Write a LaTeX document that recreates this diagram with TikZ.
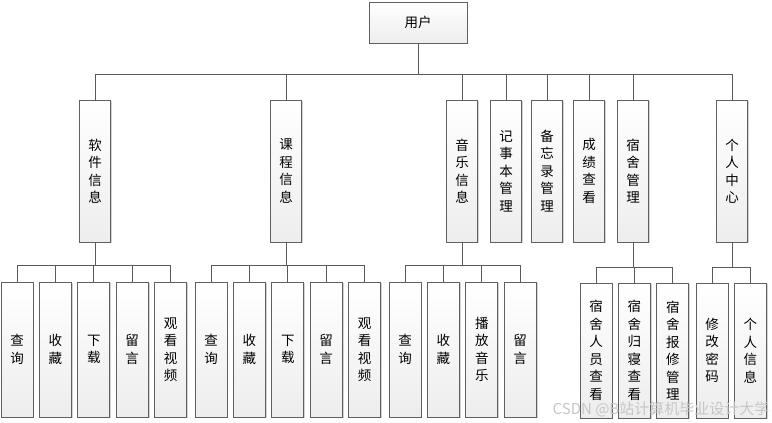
\documentclass[tikz,border=0pt]{standalone}
\usepackage{fontspec}
\newfontfamily\cjk{Noto Sans CJK SC}
\usetikzlibrary{positioning,shadows}

\begin{document}
\begin{tikzpicture}[
  x=1pt, y=-1pt,
  node distance=5.5pt,
  box/.style={rectangle, draw=gray!75!black, line width=0.9pt,
    top color=white, bottom color=gray!14, inner sep=0pt,
    drop shadow={shadow xshift=1.3pt, shadow yshift=-1.3pt, fill=gray!70},
    align=center, font=\cjk\fontsize{13.5}{17.5}\selectfont},
  topbox/.style={box, minimum width=98pt, minimum height=41pt},
  module/.style={box, minimum width=31pt, minimum height=142pt},
  leaf/.style={box, minimum width=32pt, minimum height=135pt},
  link/.style={draw=gray!70!black, line width=1pt}
]
\useasboundingbox (0,0) rectangle (772,423);

% root and first level
\node[topbox] (user)   at (418,22.5) {用户};
\node[module] (soft)   at (95,171)  {软\\件\\信\\息};
\node[module] (course) at (286,171) {课\\程\\信\\息};
\node[module] (music)  at (462,171) {音\\乐\\信\\息};
\node[module] (note)   at (506,171) {记\\事\\本\\管\\理};
\node[module] (memo)   at (547,171) {备\\忘\\录\\管\\理};
\node[module] (score)  at (589,171) {成\\绩\\查\\看};
\node[module] (dorm)   at (633,171) {宿\\舍\\管\\理};
\node[module] (mine)   at (732,171) {个\\人\\中\\心};

% software leaves
\node[leaf] (s1) at (17,349.5) {查\\询};
\node[leaf, right=of s1] (s2) {收\\藏};
\node[leaf, right=of s2] (s3) {下\\载};
\node[leaf, right=of s3] (s4) {留\\言};
\node[leaf, right=of s4] (s5) {观\\看\\视\\频};

% course leaves
\node[leaf] (c1) at (211,349.5) {查\\询};
\node[leaf, right=of c1] (c2) {收\\藏};
\node[leaf, right=of c2] (c3) {下\\载};
\node[leaf, right=of c3] (c4) {留\\言};
\node[leaf, right=of c4] (c5) {观\\看\\视\\频};

% music leaves
\node[leaf] (m1) at (405,349.5) {查\\询};
\node[leaf, right=of m1] (m2) {收\\藏};
\node[leaf, right=of m2] (m3) {播\\放\\音\\乐};
\node[leaf, right=of m3] (m4) {留\\言};

% dorm leaves
\node[leaf] (d1) at (596,350.5) {宿\\舍\\人\\员\\查\\看};
\node[leaf, right=of d1] (d2) {宿\\舍\\归\\寝\\查\\看};
\node[leaf, right=of d2] (d3) {宿\\舍\\报\\修\\管\\理};

% personal leaves
\node[leaf] (p1) at (712,350.5) {修\\改\\密\\码};
\node[leaf, right=of p1] (p2) {个\\人\\信\\息};

\coordinate (bus0) at (0,74.5);
\coordinate (bus1) at (0,265);
\coordinate (bus2) at (0,267);

\draw[link] (user.south) -- (user.south |- bus0) -| (soft.north);
\draw[link] (user.south) -- (user.south |- bus0) -| (course.north);
\draw[link] (user.south) -- (user.south |- bus0) -| (music.north);
\draw[link] (user.south) -- (user.south |- bus0) -| (note.north);
\draw[link] (user.south) -- (user.south |- bus0) -| (memo.north);
\draw[link] (user.south) -- (user.south |- bus0) -| (score.north);
\draw[link] (user.south) -- (user.south |- bus0) -| (dorm.north);
\draw[link] (user.south) -- (user.south |- bus0) -| (mine.north);

\draw[link] (soft.south) -- (soft.south |- bus1) -| (s1.north);
\draw[link] (soft.south) -- (soft.south |- bus1) -| (s2.north);
\draw[link] (soft.south) -- (soft.south |- bus1) -| (s3.north);
\draw[link] (soft.south) -- (soft.south |- bus1) -| (s4.north);
\draw[link] (soft.south) -- (soft.south |- bus1) -| (s5.north);

\draw[link] (course.south) -- (course.south |- bus1) -| (c1.north);
\draw[link] (course.south) -- (course.south |- bus1) -| (c2.north);
\draw[link] (course.south) -- (course.south |- bus1) -| (c3.north);
\draw[link] (course.south) -- (course.south |- bus1) -| (c4.north);
\draw[link] (course.south) -- (course.south |- bus1) -| (c5.north);

\draw[link] (music.south) -- (music.south |- bus1) -| (m1.north);
\draw[link] (music.south) -- (music.south |- bus1) -| (m2.north);
\draw[link] (music.south) -- (music.south |- bus1) -| (m3.north);
\draw[link] (music.south) -- (music.south |- bus1) -| (m4.north);

\draw[link] (dorm.south) -- (dorm.south |- bus2) -| (d1.north);
\draw[link] (dorm.south) -- (dorm.south |- bus2) -| (d2.north);
\draw[link] (dorm.south) -- (dorm.south |- bus2) -| (d3.north);

\draw[link] (mine.south) -- (mine.south |- bus2) -| (p1.north);
\draw[link] (mine.south) -- (mine.south |- bus2) -| (p2.north);

% watermark
\node[font=\cjk\fontsize{15}{18}\selectfont, text=gray!45] (mark) at (661,409) {CSDN @B站计算机毕业设计大学};
\end{tikzpicture}
\end{document}
